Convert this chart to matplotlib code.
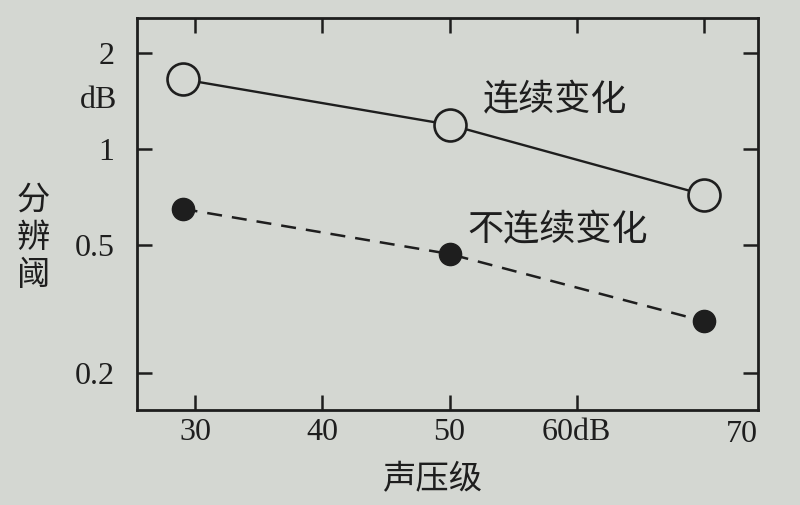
import numpy as np
import matplotlib.pyplot as plt

# Data
spl = [29, 50, 70]                      # sound pressure level (dB)
continuous = [1.65, 1.19, 0.72]         # threshold, continuous change (dB)
discontinuous = [0.65, 0.47, 0.29]      # threshold, discontinuous change (dB)
yticks = [0.2, 0.5, 1, 2]
ytick_labels = ['0.2', '0.5', '1', '2']
xticks = [30, 40, 50, 60]
xtick_labels = ['30', '40', '50', '60dB']
top_ticks = [30, 40, 50, 60, 70]

bg = '#d4d7d2'
ink = '#1e1e1e'
serif = ['Liberation Serif', 'DejaVu Serif']
cjk = ['Noto Sans CJK SC', 'DejaVu Sans']

fig = plt.figure(figsize=(8, 5.05), dpi=100, facecolor=bg)
ax = fig.add_axes([0.171, 0.188, 0.777, 0.776], facecolor=bg)

ax.set_yscale('log')
ax.plot(spl, continuous, '-', color=ink, lw=1.7, marker='o', ms=23,
        mfc=bg, mec=ink, mew=1.9)
ax.plot(spl, discontinuous, color=ink, lw=1.8, ls=(0, (6, 4)), marker='o',
        ms=16, mfc=ink, mec=ink)

ax.set_xlim(25.4, 74.3)
ax.set_ylim(0.153, 2.56)

ax.set_yticks(yticks)
ax.set_yticklabels(ytick_labels, family=serif, fontsize=23, color=ink)
ax.yaxis.set_minor_locator(plt.NullLocator())
ax.set_xticks(xticks)
ax.set_xticklabels(xtick_labels, family=serif, fontsize=23, color=ink)
ax.tick_params(which='both', direction='in', length=11, width=1.8,
               right=True, colors=ink)
ax.tick_params(axis='y', pad=16)
ax.tick_params(axis='x', pad=6)

top = ax.secondary_xaxis('top')
top.set_xticks(top_ticks)
top.set_xticklabels([])
top.tick_params(direction='in', length=11, width=1.8, colors=ink)
top.spines['top'].set_visible(False)

for s in ax.spines.values():
    s.set_linewidth(2.0)
    s.set_color(ink)

# "70" sits near the right edge in the original
ax.text(73.0, -0.026, '70', transform=ax.get_xaxis_transform(),
        ha='center', va='top', family=serif, fontsize=23, color=ink)
ax.text(-0.062, 0.79, 'dB', transform=ax.transAxes, ha='center', va='center',
        family=serif, fontsize=23, color=ink)

ax.text(58.3, 1.42, '连续变化', ha='center', va='center', family=cjk,
        fontsize=26, color=ink)
ax.text(58.5, 0.555, '不连续变化', ha='center', va='center', family=cjk,
        fontsize=26, color=ink)

fig.text(0.042, 0.53, '分\n辨\n阈', ha='center', va='center', family=cjk,
         fontsize=24, color=ink, linespacing=1.1)
fig.text(0.54, 0.05, '声压级', ha='center', va='center', family=cjk,
         fontsize=24, color=ink)

fig.savefig('out.png', dpi=100, facecolor=bg)
